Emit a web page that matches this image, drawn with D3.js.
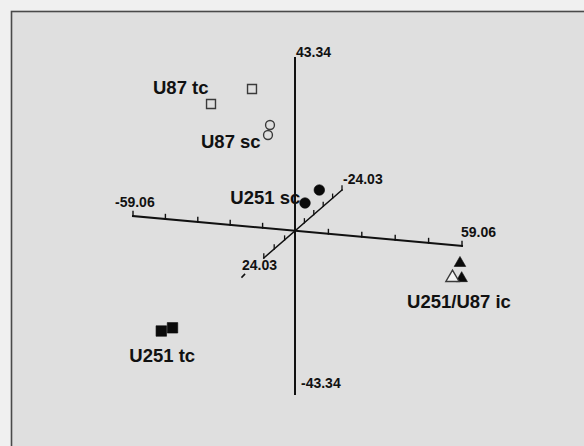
<!DOCTYPE html>
<html>
<head>
<meta charset="utf-8">
<script src="https://cdn.jsdelivr.net/npm/d3@7"></script>
<style>
  html, body { margin: 0; padding: 0; background: #f0f0f0; }
  svg { display: block; }
  text { font-family: "Liberation Sans", Arial, Helvetica, sans-serif; font-weight: bold; fill: #111; }
</style>
</head>
<body>
<svg id="chart" width="584" height="446"></svg>
<script>
// Extents of the three principal-component axes
const pc1Range = [-59.06, 59.06];
const pc2Range = [-43.34, 43.34];
const pc3Range = [-24.03, 24.03];
const pc1TickLabels = ["-59.06", "59.06"];
const pc2TickLabels = ["-43.34", "43.34"];
const pc3TickLabels = ["-24.03", "24.03"];

// Sample scores
const sampleSeries = ["U87 tc", "U87 tc", "U87 sc", "U87 sc", "U251 sc", "U251 sc",
                      "U251 ic", "U251 ic", "U87 ic", "U251 tc", "U251 tc"];
const pc1 = [-21.38, -33.47, -13.39, -13.41, 1.68, -0.63, 56.96, 58.25, 56.46, -46.38, -43.08];
const pc2 = [30.79, 27.98, 23.14, 21.06, 6.10, 4.41, -5.60, -9.10, -8.10, -28.23, -27.65];
const pc3 = [-8, -4, -6, -5, -10, -6, -2, -1, 1, 3, 2];

// Group captions and the series each one sits next to
const captionText = ["U87 tc", "U87 sc", "U251 sc", "U251/U87 ic", "U251 tc"];
const captionSeries = ["U87 tc", "U87 sc", "U251 sc", "U251 ic", "U251 tc"];

const svg = d3.select("#chart");

// Oblique projection of the three axes onto the page
const origin = [295, 231];
const xH = d3.scaleLinear().domain([pc1Range[0], 0, pc1Range[1]]).range([-162, 0, 167]);
const xV = d3.scaleLinear().domain([pc1Range[0], 0, pc1Range[1]]).range([-15, 0, 15]);
const yV = d3.scaleLinear().domain([pc2Range[0], 0, pc2Range[1]]).range([163, 0, -173]);
const zH = d3.scaleLinear().domain([pc3Range[0], 0, pc3Range[1]]).range([47, 0, -52]);
const zV = d3.scaleLinear().domain([pc3Range[0], 0, pc3Range[1]]).range([-41, 0, 45]);
const proj = (a, b, c) => [origin[0] + xH(a) + zH(c), origin[1] + xV(a) + yV(b) + zV(c)];

// Panel
svg.append("rect")
  .attr("x", 11.5).attr("y", 11.5).attr("width", 620).attr("height", 480)
  .attr("fill", "#dfdfdf").attr("stroke", "#4a4a4a").attr("stroke-width", 1.6);

const axes = svg.append("g").attr("stroke", "#111").attr("fill", "none").attr("stroke-linecap", "square");
const line = d3.line();

// PC2: vertical axis, no ticks
axes.append("path").attr("stroke-width", 2)
  .attr("d", line([proj(0, pc2Range[0], 0), proj(0, pc2Range[1], 0)]));

// PC1: horizontal axis with five ticks per half
axes.append("path").attr("stroke-width", 2)
  .attr("d", line([proj(pc1Range[0], 0, 0), proj(pc1Range[1], 0, 0)]));
const pc1Ticks = d3.range(-5, 6).filter(k => k !== 0).map(k => k * pc1Range[1] / 5);
axes.selectAll(".t1").data(pc1Ticks).join("path").attr("stroke-width", 1.4)
  .attr("d", v => { const p = proj(v, 0, 0); return line([p, [p[0], p[1] - 4.5]]); });

// PC3: depth axis; the near half is drawn to its third tick, with a mark at its end
const pc3Step = pc3Range[1] / 5;
axes.append("path").attr("stroke-width", 1.5)
  .attr("d", line([proj(0, 0, pc3Range[0]), proj(0, 0, 3 * pc3Step)]));
const pc3Ticks = [-5, -4, -3, -2, -1, 1, 2, 3].map(k => k * pc3Step);
axes.selectAll(".t3").data(pc3Ticks).join("path").attr("stroke-width", 1.3)
  .attr("d", v => { const p = proj(0, 0, v); return line([p, [p[0], p[1] - 4]]); });
const nearEnd = proj(0, 0, pc3Range[1]);
axes.append("path").attr("stroke-width", 1.6)
  .attr("d", line([[nearEnd[0] - 1, nearEnd[1] + 1], [nearEnd[0] + 1.5, nearEnd[1] - 1.5]]));

// Axis end labels
const endLabels = [
  { t: pc2TickLabels[1], p: proj(0, pc2Range[1], 0), dx: 1, dy: -1 },
  { t: pc2TickLabels[0], p: proj(0, pc2Range[0], 0), dx: 6, dy: -6 },
  { t: pc1TickLabels[0], p: proj(pc1Range[0], 0, 0), dx: -18, dy: -9 },
  { t: pc1TickLabels[1], p: proj(pc1Range[1], 0, 0), dx: -1, dy: -9 },
  { t: pc3TickLabels[0], p: proj(0, 0, pc3Range[0]), dx: 1, dy: -6 },
  { t: pc3TickLabels[1], p: proj(0, 0, pc3Range[1]), dx: -1, dy: -6 }
];
svg.selectAll(".endlab").data(endLabels).join("text")
  .attr("x", d => d.p[0] + d.dx).attr("y", d => d.p[1] + d.dy)
  .attr("font-size", 14).text(d => d.t);

// Samples
const samples = pc1.map((v, i) => ({ s: sampleSeries[i], p: proj(v, pc2[i], pc3[i]) }));

// Captions, placed from the first sample of their series
const captionOffset = [[-99, 5, "start"], [-69, 23, "start"], [-89, 14, "start"], [-1, 45, "middle"], [-32, 31, "start"]];
svg.selectAll(".cap").data(captionText).join("text")
  .attr("x", (t, i) => samples.find(d => d.s === captionSeries[i]).p[0] + captionOffset[i][0])
  .attr("y", (t, i) => samples.find(d => d.s === captionSeries[i]).p[1] + captionOffset[i][1])
  .attr("text-anchor", (t, i) => captionOffset[i][2])
  .attr("font-size", 18.5).text(t => t);

// Marker shape from the culture type, fill from the cell line
const shapeOf = s => s.endsWith("tc") ? d3.symbolSquare : s.endsWith("sc") ? d3.symbolCircle : d3.symbolTriangle;
const filled = s => s.startsWith("U251");
const sizeOf = s => {
  if (s.endsWith("tc")) return filled(s) ? 110 : 80;
  if (s.endsWith("sc")) return filled(s) ? 88 : 62;
  return filled(s) ? 58 : 76;
};
svg.append("g").selectAll("path").data(samples).join("path")
  .attr("transform", d => `translate(${d.p[0]},${d.p[1]})`)
  .attr("d", d => d3.symbol(shapeOf(d.s), sizeOf(d.s))())
  .attr("fill", d => filled(d.s) ? "#0a0a0a" : (d.s.endsWith("ic") ? "#f4f4f4" : "none"))
  .attr("stroke", d => filled(d.s) ? "#0a0a0a" : "#3a3a3a")
  .attr("stroke-width", d => filled(d.s) ? 0.6 : 1.4);
</script>
</body>
</html>
